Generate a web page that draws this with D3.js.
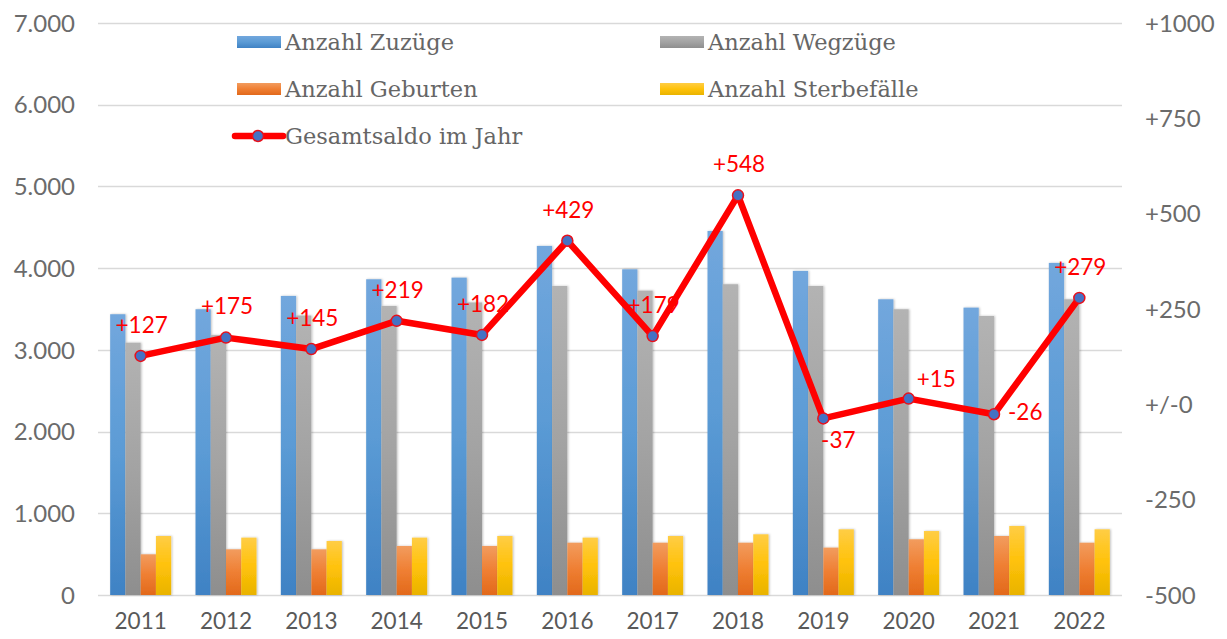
<!DOCTYPE html>
<html>
<head>
<meta charset="utf-8">
<script src="https://cdn.jsdelivr.net/npm/d3@7"></script>
<style>
  body { margin: 0; background: #fff; }
  svg { display: block; }
</style>
</head>
<body>
<svg id="chart" width="1227" height="639"></svg>
<script>
// data
var years = ["2011","2012","2013","2014","2015","2016","2017","2018","2019","2020","2021","2022"];
var zuzuege =      [3436, 3497, 3660, 3864, 3884, 4272, 3986, 4455, 3966, 3619, 3517, 4064];
var wegzuege =     [3088, 3180, 3420, 3537, 3580, 3782, 3725, 3803, 3782, 3497, 3415, 3619];
var geburten =     [ 498,  559,  559,  600,  600,  640,  640,  640,  580,  682,  722,  640];
var sterbefaelle = [ 722,  702,  661,  702,  722,  702,  722,  743,  804,  783,  845,  804];
var saldo =        [ 127,  175,  145,  219,  182,  429,  179,  548,  -37,   15,  -26,  279];
var saldoPos = ["above","above","above","above","above","above","above","above","below","aboveRight","right","above"];
var leftTicks = [0, 1000, 2000, 3000, 4000, 5000, 6000, 7000];
var rightTicks = [-500, -250, 0, 250, 500, 750, 1000];

var seriesNames = ["Anzahl Zuzüge", "Anzahl Wegzüge", "Anzahl Geburten", "Anzahl Sterbefälle"];
var seriesData = [zuzuege, wegzuege, geburten, sterbefaelle];
var lineName = "Gesamtsaldo im Jahr";

var grads = [
	["#72a7dd", "#5b9bd5", "#3f82c4"],
	["#b3b3b3", "#a3a3a3", "#8e8e8e"],
	["#f29c5e", "#ef7f33", "#e2691b"],
	["#ffcd45", "#ffc20a", "#e9b300"]
];

var svg = d3.select("#chart");
var plot = {left: 98, right: 1122, top: 23, bottom: 595};

var de = d3.formatLocale({decimal: ",", thousands: ".", grouping: [3], currency: ["", "€"]});
var fmtLeft = de.format(",");
var fmtRight = function(v){
	if (v == 0) return "+/-0";
	return (v > 0 ? "+" : "-") + Math.abs(v);
};
var fmtSaldo = function(v){ return (v > 0 ? "+" : "-") + Math.abs(v); };

var x = d3.scaleBand().domain(years).range([plot.left, plot.right]).padding(0);
var groupW = 61;
var xs = d3.scaleBand().domain(d3.range(4))
	.range([(x.bandwidth() - groupW) / 2, (x.bandwidth() + groupW) / 2]);
var yL = d3.scaleLinear().domain([0, 7000]).range([plot.bottom, plot.top]);
var yR = d3.scaleLinear().domain([-500, 1000]).range([plot.bottom, plot.top]);

// gradients
var defs = svg.append("defs");
grads.forEach(function(g, i){
	var lg = defs.append("linearGradient")
		.attr("id", "g" + i)
		.attr("x1", 0).attr("y1", 0).attr("x2", 0).attr("y2", 1);
	lg.append("stop").attr("offset", "0%").attr("stop-color", g[0]);
	lg.append("stop").attr("offset", "50%").attr("stop-color", g[1]);
	lg.append("stop").attr("offset", "100%").attr("stop-color", g[2]);
});
var shadow = defs.append("filter").attr("id", "shadow")
	.attr("x", "-30%").attr("y", "-5%").attr("width", "160%").attr("height", "110%");
shadow.append("feDropShadow").attr("dx", 1).attr("dy", 0).attr("stdDeviation", 1.2)
	.attr("flood-color", "#000").attr("flood-opacity", 0.25);

// gridlines (left axis)
svg.append("g")
	.selectAll("line")
	.data(leftTicks)
	.enter().append("line")
	.attr("x1", plot.left).attr("x2", plot.right)
	.attr("y1", function(d){ return Math.round(yL(d)) + 0.5; })
	.attr("y2", function(d){ return Math.round(yL(d)) + 0.5; })
	.attr("stroke", "#d9d9d9").attr("stroke-width", 1.3);

// left axis
var axL = svg.append("g")
	.attr("transform", "translate(" + (plot.left - 23) + ",0)")
	.call(d3.axisLeft(yL).tickValues(leftTicks).tickFormat(fmtLeft).tickSize(0).tickPadding(0));
axL.select(".domain").remove();
axL.selectAll("text")
	.attr("font-family", "Lato, sans-serif").attr("font-size", 24)
	.attr("fill", "#6b6b6b").attr("dy", "0.34em");

// right axis
var axR = svg.append("g")
	.attr("transform", "translate(" + (plot.right + 23) + ",0)")
	.call(d3.axisRight(yR).tickValues(rightTicks).tickFormat(fmtRight).tickSize(0).tickPadding(0));
axR.select(".domain").remove();
axR.selectAll("text")
	.attr("font-family", "Lato, sans-serif").attr("font-size", 24)
	.attr("fill", "#6b6b6b").attr("dy", "0.34em");

// bottom axis
var axB = svg.append("g")
	.attr("transform", "translate(0," + (plot.bottom + 16) + ")")
	.call(d3.axisBottom(x).tickSize(0).tickPadding(0));
axB.select(".domain").remove();
axB.selectAll("text")
	.attr("font-family", "Lato, sans-serif").attr("font-size", 22.5)
	.attr("fill", "#595959").attr("dy", "0.8em");

// bars
var bars = svg.append("g");
seriesData.forEach(function(vals, s){
	bars.append("g")
		.selectAll("rect")
		.data(vals)
		.enter().append("rect")
		.attr("x", function(d, i){ return x(years[i]) + xs(s); })
		.attr("width", xs.bandwidth())
		.attr("y", function(d){ return yL(d); })
		.attr("height", function(d){ return yL(0) - yL(d); })
		.attr("fill", "url(#g" + s + ")")
		.attr("filter", "url(#shadow)");
});

// saldo line
var cx = function(i){ return x(years[i]) + x.bandwidth() / 2; };
var line = d3.line()
	.x(function(d, i){ return cx(i); })
	.y(function(d){ return yR(d); });
svg.append("path")
	.datum(saldo)
	.attr("d", line)
	.attr("fill", "none")
	.attr("stroke", "#ff0000")
	.attr("stroke-width", 6.5)
	.attr("stroke-linejoin", "round");
svg.append("g")
	.selectAll("circle")
	.data(saldo)
	.enter().append("circle")
	.attr("cx", function(d, i){ return cx(i); })
	.attr("cy", function(d){ return yR(d); })
	.attr("r", 5.5)
	.attr("fill", "#4472c4")
	.attr("stroke", "#e8111b")
	.attr("stroke-width", 1.5);

// saldo labels
var off = {
	above:      {dx: 1,  dy: -31, anchor: "middle"},
	below:      {dx: 15, dy: 22,  anchor: "middle"},
	aboveRight: {dx: 8,  dy: -19, anchor: "start"},
	right:      {dx: 14, dy: -2,  anchor: "start"}
};
svg.append("g")
	.selectAll("text")
	.data(saldo)
	.enter().append("text")
	.attr("x", function(d, i){ return cx(i) + off[saldoPos[i]].dx; })
	.attr("y", function(d, i){ return yR(d) + off[saldoPos[i]].dy; })
	.attr("dy", "0.35em")
	.attr("text-anchor", function(d, i){ return off[saldoPos[i]].anchor; })
	.attr("font-family", "Lato, sans-serif")
	.attr("font-size", 22.5)
	.attr("fill", "#ff0000")
	.text(function(d){ return fmtSaldo(d); });

// legend
var legendItems = [
	{name: seriesNames[0], type: "bar", s: 0, x: 237, y: 42},
	{name: seriesNames[1], type: "bar", s: 1, x: 660, y: 42},
	{name: seriesNames[2], type: "bar", s: 2, x: 237, y: 89},
	{name: seriesNames[3], type: "bar", s: 3, x: 660, y: 89},
	{name: lineName, type: "line", x: 237, y: 136}
];
var leg = svg.append("g");
legendItems.forEach(function(it){
	var g = leg.append("g").attr("transform", "translate(" + it.x + "," + it.y + ")");
	if (it.type == "bar"){
		g.append("rect")
			.attr("x", 0).attr("y", -6)
			.attr("width", 44).attr("height", 12)
			.attr("fill", "url(#g" + it.s + ")");
	} else {
		g.append("line")
			.attr("x1", -2).attr("x2", 46).attr("y1", 0).attr("y2", 0)
			.attr("stroke", "#ff0000").attr("stroke-width", 6.5)
			.attr("stroke-linecap", "round");
		g.append("circle")
			.attr("cx", 21).attr("cy", 0).attr("r", 5.5)
			.attr("fill", "#4472c4").attr("stroke", "#e8111b").attr("stroke-width", 1.5);
	}
	g.append("text")
		.attr("x", 48).attr("y", 0).attr("dy", "0.35em")
		.attr("font-family", "'DejaVu Serif', serif")
		.attr("font-size", 22.5)
		.attr("fill", "#666666")
		.text(it.name);
});
</script>
</body>
</html>
